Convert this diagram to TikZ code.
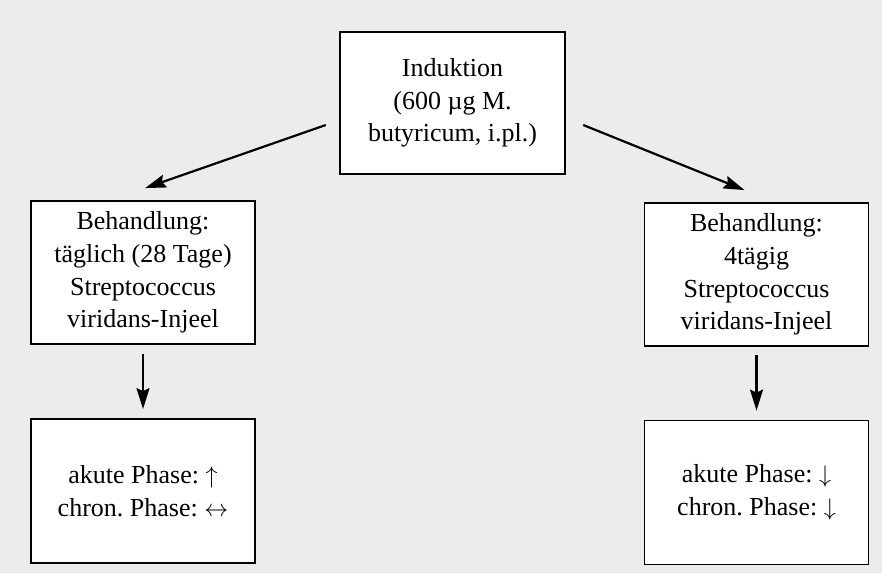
\documentclass[tikz,border=0pt]{standalone}
\usepackage{fontspec}
\setmainfont{Liberation Serif}
\usetikzlibrary{arrows.meta, calc}
\definecolor{paper}{RGB}{236,236,236}
\frenchspacing

\begin{document}
\begin{tikzpicture}[x=0.5pt, y=-0.5pt,
  box/.style={draw, fill=white, line width=0.9pt, minimum width=112pt, minimum height=71.5pt,
    align=center, inner sep=0pt, font=\fontsize{13}{16.3}\selectfont},
  pfeil/.style={line width=1.1pt, -{Stealth[length=10.5pt, width=6.5pt, inset=1.5pt]}}]
  \fill[paper] (0,0) rectangle (882,573);
  \node[box, minimum width=112.5pt, minimum height=71pt, line width=1.2pt] (induktion) at (452.5,103)
    {Induktion\\(600 µg M.\\butyricum, i.pl.)};
  \node[box] (behtgl) at (143,272.5) {Behandlung:\\täglich (28 Tage)\\Streptococcus\\viridans-Injeel};
  \node[box] (behvier) at (756.5,274.5) {Behandlung:\\4tägig\\Streptococcus\\viridans-Injeel};
  \node[box, minimum height=72pt] (wirktgl) at (143,491) {akute Phase: $\uparrow$\\chron. Phase: $\leftrightarrow$};
  \node[box, minimum height=72pt] (wirkvier) at (756.5,492.5) {akute Phase: $\downarrow$\\chron. Phase: $\downarrow$};
  \draw[pfeil] ($(induktion.west)+(-13,22)$) -- ($(behtgl.north)+(2,-12)$);
  \draw[pfeil] ($(induktion.east)+(17,22)$) -- ($(behvier.north)+(-12,-12)$);
  \draw[pfeil, shorten <=4.5pt, shorten >=4.5pt] (behtgl) -- (wirktgl);
  \draw[pfeil, shorten <=4pt, shorten >=4.5pt] (behvier) -- (wirkvier);
\end{tikzpicture}
\end{document}
